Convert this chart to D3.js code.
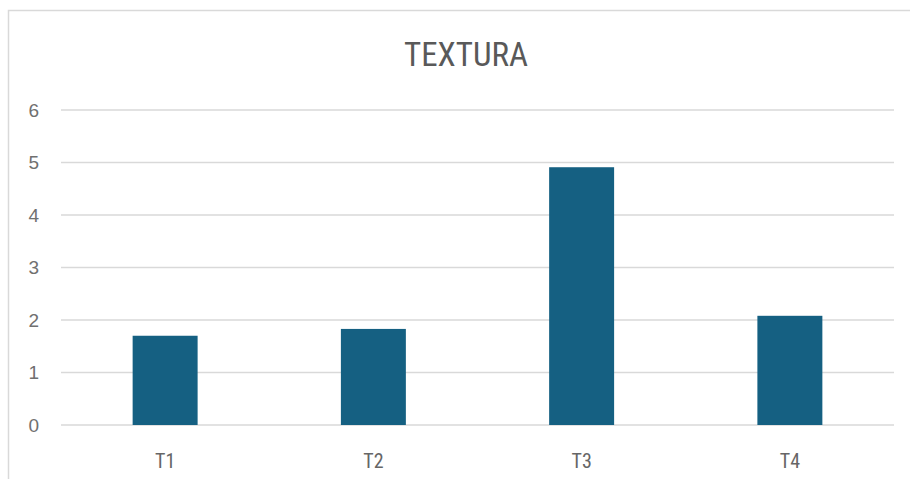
<!DOCTYPE html>
<html>
<head>
<meta charset="utf-8">
<script src="https://cdn.jsdelivr.net/npm/d3@7"></script>
<style>
  html, body { margin: 0; padding: 0; background: #fff; }
  svg { display: block; }
  .narrow { font-family: "Liberation Sans Narrow", "Roboto Condensed", "Liberation Sans", sans-serif; }
  .wide { font-family: "Liberation Sans", Arial, sans-serif; }
</style>
</head>
<body>
<svg id="chart" width="910" height="479"></svg>
<script>
// Texture scores per treatment
const categories = ["T1", "T2", "T3", "T4"];
const values = [1.7, 1.83, 4.91, 2.08];
const yTicks = [0, 1, 2, 3, 4, 5, 6];
const title = "TEXTURA";

const svg = d3.select("#chart");
const W = 910, H = 479;
const plot = { left: 61, right: 894, top: 110, bottom: 425 };

// outer chart frame
svg.append("rect")
  .attr("x", 8.5).attr("y", 10.5)
  .attr("width", W + 10).attr("height", H + 10)
  .attr("fill", "#fff")
  .attr("stroke", "#d9d9d9").attr("stroke-width", 1.5);

const x = d3.scaleBand().domain(categories).range([plot.left, plot.right]).padding(0);
const y = d3.scaleLinear().domain([0, 6]).range([plot.bottom, plot.top]);

// horizontal gridlines
svg.append("g")
  .selectAll("line")
  .data(yTicks)
  .join("line")
  .attr("x1", plot.left).attr("x2", plot.right)
  .attr("y1", d => y(d)).attr("y2", d => y(d))
  .attr("stroke", "#d9d9d9").attr("stroke-width", 1.5);

// y tick labels
svg.append("g")
  .selectAll("text")
  .data(yTicks)
  .join("text")
  .attr("class", "wide")
  .attr("x", 39).attr("y", d => y(d))
  .attr("dy", "0.36em")
  .attr("text-anchor", "end")
  .attr("font-size", 19)
  .attr("fill", "#707070")
  .text(d => d);

// bars
const barW = x.bandwidth() * 0.312;
svg.append("g")
  .selectAll("rect")
  .data(categories.map((c, i) => ({ c, v: values[i] })))
  .join("rect")
  .attr("x", d => x(d.c) + x.bandwidth() / 2 - barW / 2)
  .attr("y", d => y(d.v))
  .attr("width", barW)
  .attr("height", d => y(0) - y(d.v))
  .attr("fill", "#156082");

// x category labels
svg.append("g")
  .selectAll("text")
  .data(categories)
  .join("text")
  .attr("class", "narrow")
  .attr("x", d => x(d) + x.bandwidth() / 2)
  .attr("y", 468)
  .attr("text-anchor", "middle")
  .attr("font-size", 20)
  .attr("fill", "#666")
  .text(d => d);

// title
svg.append("text")
  .attr("class", "narrow")
  .attr("x", 466).attr("y", 66)
  .attr("text-anchor", "middle")
  .attr("font-size", 33)
  .attr("fill", "#595959")
  .text(title);
</script>
</body>
</html>
